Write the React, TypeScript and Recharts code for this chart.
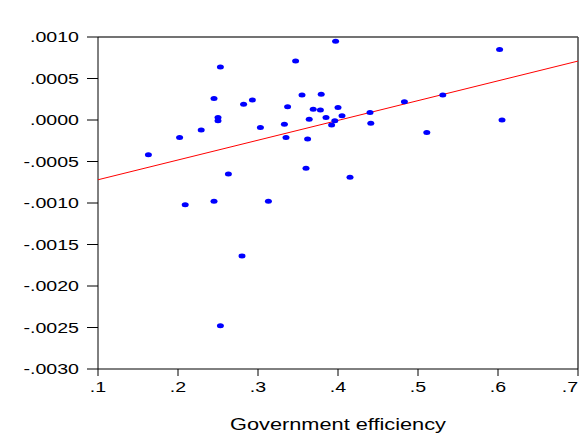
import { ScatterChart, Scatter, XAxis, YAxis, ReferenceLine } from 'recharts';

const efficiency = [
  0.163, 0.202, 0.209, 0.229, 0.245, 0.245, 0.25, 0.25, 0.253, 0.253, 0.263,
  0.28, 0.282, 0.293, 0.303, 0.313, 0.333, 0.335, 0.337, 0.347, 0.355, 0.36,
  0.362, 0.364, 0.369, 0.378, 0.379, 0.385, 0.392, 0.396, 0.397, 0.4, 0.405,
  0.415, 0.44, 0.441, 0.483, 0.511, 0.531, 0.602, 0.605
];

const residual = [
  -0.00042, -0.00021, -0.00102, -0.00012, 0.00026, -0.00098, 0.00003, -0.00001,
  0.00064, -0.00248, -0.00065, -0.00164, 0.00019, 0.00024, -0.00009, -0.00098,
  -0.00005, -0.00021, 0.00016, 0.00071, 0.0003, -0.00058, -0.00023, 0.00001,
  0.00013, 0.00012, 0.00031, 0.00003, -0.00006, -0.00001, 0.00095, 0.00015,
  0.00005, -0.00069, 0.00009, -0.00004, 0.00022, -0.00015, 0.0003, 0.00085, 0.0
];

const fitX = [0.1, 0.7];
const fitY = [-0.00072, 0.00071];

const xTicks = [0.1, 0.2, 0.3, 0.4, 0.5, 0.6, 0.7];
const yTicks = [0.001, 0.0005, 0, -0.0005, -0.001, -0.0015, -0.002, -0.0025, -0.003];

const points = efficiency.map((x, i) => ({ x, y: residual[i] }));
const fitLine = fitX.map((x, i) => ({ x, y: fitY[i] }));

const FONT = '"Liberation Sans", Arial, sans-serif';
const STRETCH = 1.4;

const fmtY = (v: number) => {
  const s = Math.abs(v).toFixed(4).replace(/^0/, '');
  return v < -1e-12 ? '-' + s : s;
};
const fmtX = (v: number) => v.toFixed(1).replace(/^0/, '');

const YTick = (props: any) => {
  const { x, y, payload } = props;
  return (
    <text
      transform={`translate(${x},${y + 5}) scale(${STRETCH},1)`}
      textAnchor="end"
      fontFamily={FONT}
      fontSize={14}
      fill="#000"
    >
      {fmtY(payload.value)}
    </text>
  );
};

const XTick = (props: any) => {
  const { x, y, payload } = props;
  return (
    <text
      transform={`translate(${x},${y + 12}) scale(${STRETCH},1)`}
      textAnchor="middle"
      fontFamily={FONT}
      fontSize={14}
      fill="#000"
    >
      {fmtX(payload.value)}
    </text>
  );
};

const AxisTitle = (props: any) => {
  const vb = props.viewBox || { x: 98, width: 480 };
  return (
    <text
      transform={`translate(${vb.x + vb.width / 2},430) scale(1.36,1)`}
      textAnchor="middle"
      fontFamily={FONT}
      fontSize={16}
      fill="#000"
    >
      Government efficiency
    </text>
  );
};

const Dot = (props: any) => {
  const { cx, cy } = props;
  return <ellipse cx={cx} cy={cy} rx={3.5} ry={2.5} fill="#0000ff" />;
};

export default function App() {
  return (
    <div style={{ position: 'absolute', left: 0, top: 0, background: '#fff' }}>
      <ScatterChart
        width={580}
        height={433}
        margin={{ top: 37, right: 2, bottom: 0, left: 0 }}
      >
        <XAxis
          type="number"
          dataKey="x"
          domain={[0.1, 0.7]}
          ticks={xTicks}
          allowDataOverflow
          height={64}
          tickSize={7}
          tickMargin={4}
          stroke="#000"
          tickLine={{ stroke: '#000' }}
          tick={<XTick />}
          label={<AxisTitle />}
        />
        <YAxis
          type="number"
          dataKey="y"
          domain={[-0.003, 0.001]}
          ticks={yTicks}
          allowDataOverflow
          width={98}
          tickSize={11}
          tickMargin={8}
          stroke="#000"
          tickLine={{ stroke: '#000' }}
          tick={<YTick />}
        />
        <Scatter
          data={fitLine}
          line={{ stroke: '#ff0000', strokeWidth: 1 }}
          shape={() => <g />}
          isAnimationActive={false}
        />
        <Scatter data={points} shape={<Dot />} isAnimationActive={false} />
        <ReferenceLine y={0.001} stroke="#444" strokeWidth={1.5} />
        <ReferenceLine x={0.7} stroke="#444" strokeWidth={1.5} />
      </ScatterChart>
    </div>
  );
}
